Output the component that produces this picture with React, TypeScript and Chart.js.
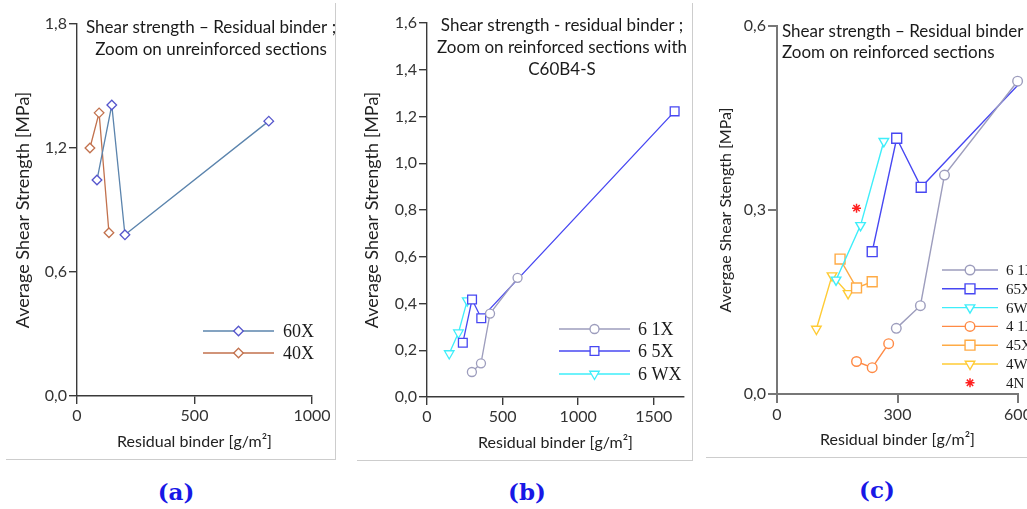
import React, { useEffect, useRef } from 'react';
import { Chart, registerables } from 'chart.js';

Chart.register(...registerables);

// ---------- Panel (a) : unreinforced sections ----------
const binderA60X = [85, 148, 204, 816];
const shearA60X = [1.045, 1.408, 0.78, 1.33];
const binderA40X = [55, 94, 136];
const shearA40X = [1.2, 1.37, 0.79];

// ---------- Panels (b) and (c) : reinforced sections ----------
const binder61X = [297, 357, 417, 599];
const shear61X = [0.107, 0.144, 0.357, 0.51];
const binder65X = [237, 298, 359, 1638];
const shear65X = [0.232, 0.417, 0.337, 1.222];
const binder6WX = [147, 208, 266];
const shear6WX = [0.186, 0.275, 0.412];
const binder41X = [198, 237, 278];
const shear41X = [0.053, 0.043, 0.082];
const binder45X = [157, 198, 237];
const shear45X = [0.22, 0.173, 0.183];
const binder4WX = [98, 137, 177];
const shear4WX = [0.106, 0.193, 0.164];
const binder4N = [198];
const shear4N = [0.303];

// ---------- Ticks ----------
const xTicksA = [0, 500, 1000];
const yTicksA = [0, 0.6, 1.2, 1.8];
const xTicksB = [0, 500, 1000, 1500];
const yTicksB = [0, 0.2, 0.4, 0.6, 0.8, 1.0, 1.2, 1.4, 1.6];
const xTicksC = [0, 300, 600];
const yTicksC = [0, 0.3, 0.6];

// ---------- Labels ----------
const titleA = ['Shear strength \u2013 Residual binder ;', 'Zoom on unreinforced sections'];
const titleB = ['Shear strength - residual binder ;', 'Zoom on reinforced sections with', 'C60B4-S'];
const titleC = ['Shear strength \u2013 Residual binder ;', 'Zoom on reinforced sections'];
const xTitle = 'Residual binder [g/m\u00b2]';
const yTitleAB = 'Average Shear Strength [MPa]';
const yTitleC = 'Avergae Shear Stength [MPa]';
const labelsA = ['60X', '40X'];
const labelsB = ['6 1X', '6 5X', '6 WX'];
const labelsC = ['6 1X', '65X', '6WX', '4 1X', '45X', '4WX', '4N'];

const SANS = 'Lato, "Open Sans", "Noto Sans", sans-serif';
const SERIF = '"Liberation Serif", "DejaVu Serif", serif';

const pts = (xs: number[], ys: number[]) => xs.map((x, i) => ({ x, y: ys[i] }));

function drawMarker(ctx: CanvasRenderingContext2D, style: string, x: number, y: number, r: number, rotDeg: number, color: string, lw: number) {
  const rad0 = (rotDeg * Math.PI) / 180;
  ctx.save();
  ctx.beginPath();
  ctx.strokeStyle = color;
  ctx.fillStyle = '#fff';
  ctx.lineWidth = lw;
  if (style === 'circle') {
    ctx.arc(x, y, r, 0, Math.PI * 2);
  } else if (style === 'rect') {
    const s = r * Math.SQRT1_2;
    ctx.rect(x - s, y - s, 2 * s, 2 * s);
  } else if (style === 'rectRot') {
    ctx.moveTo(x, y - r);
    ctx.lineTo(x + r, y);
    ctx.lineTo(x, y + r);
    ctx.lineTo(x - r, y);
    ctx.closePath();
  } else if (style === 'triangle') {
    let a = rad0;
    ctx.moveTo(x + Math.sin(a) * r, y - Math.cos(a) * r);
    a += (2 * Math.PI) / 3;
    ctx.lineTo(x + Math.sin(a) * r, y - Math.cos(a) * r);
    a += (2 * Math.PI) / 3;
    ctx.lineTo(x + Math.sin(a) * r, y - Math.cos(a) * r);
    ctx.closePath();
  } else if (style === 'star') {
    for (let k = 0; k < 4; k++) {
      const a = (k * Math.PI) / 4;
      ctx.moveTo(x + Math.cos(a) * r, y + Math.sin(a) * r);
      ctx.lineTo(x - Math.cos(a) * r, y - Math.sin(a) * r);
    }
  }
  if (style !== 'star') ctx.fill();
  ctx.stroke();
  ctx.restore();
}

type OverlayCfg = {
  titleLines: string[];
  titleX: number;
  titleY: number[];
  titleAlign: CanvasTextAlign;
  titleFont: string;
  legendX0: number;
  legendX1: number;
  legendTextX: number;
  legendY: number[];
  legendFont: string;
};

function makeOverlay(o: OverlayCfg) {
  return {
    id: 'overlay',
    afterDraw(chart: any) {
      const ctx: CanvasRenderingContext2D = chart.ctx;
      ctx.save();
      ctx.fillStyle = '#1a1a1a';
      ctx.font = o.titleFont;
      ctx.textAlign = o.titleAlign;
      ctx.textBaseline = 'middle';
      o.titleLines.forEach((t, i) => ctx.fillText(t, o.titleX, o.titleY[i]));
      chart.data.datasets.forEach((ds: any, i: number) => {
        const y = o.legendY[i];
        const mid = (o.legendX0 + o.legendX1) / 2;
        if (ds.showLine) {
          ctx.beginPath();
          ctx.strokeStyle = ds.borderColor;
          ctx.lineWidth = ds.borderWidth;
          ctx.moveTo(o.legendX0, y);
          ctx.lineTo(o.legendX1, y);
          ctx.stroke();
        }
        drawMarker(ctx, ds.pointStyle, mid, y, ds.pointRadius, ds.pointRotation || 0, ds.pointBorderColor, ds.pointBorderWidth);
        ctx.fillStyle = '#1a1a1a';
        ctx.font = o.legendFont;
        ctx.textAlign = 'left';
        ctx.textBaseline = 'middle';
        ctx.fillText(ds.label, o.legendTextX, y + 1);
      });
      ctx.restore();
    },
  };
}

function series(label: string, xs: number[], ys: number[], line: string, marker: string, style: string, radius: number, lw: number, extra: any = {}) {
  return {
    label,
    data: pts(xs, ys),
    showLine: true,
    borderColor: line,
    borderWidth: lw,
    pointStyle: style,
    pointRadius: radius,
    pointHoverRadius: radius,
    pointBorderColor: marker,
    pointBackgroundColor: '#fff',
    pointBorderWidth: lw,
    pointRotation: style === 'triangle' ? 180 : 0,
    ...extra,
  };
}

function makeScales(p: {
  xTicks: number[]; yTicks: number[]; yTitle: string; yTitleSize: number; yTitlePad: number;
  axisColor: string; axisW: number; tickLen: number; xMax: number;
}) {
  return {
    x: {
      type: 'linear',
      min: 0,
      max: p.xMax,
      bounds: 'data',
      afterBuildTicks: (s: any) => { s.ticks = p.xTicks.map((v) => ({ value: v })); },
      ticks: {
        autoSkip: false,
        maxRotation: 0,
        padding: 2,
        color: '#333',
        font: { family: SANS, size: 16 },
        callback: (v: any) => String(v),
      },
      grid: { display: true, drawOnChartArea: false, drawTicks: true, tickLength: p.tickLen, color: p.axisColor, lineWidth: p.axisW },
      border: { display: true, color: p.axisColor, width: p.axisW },
      title: { display: true, text: xTitle, color: '#222', font: { family: SANS, size: 16 }, padding: { top: 0, bottom: 5 } },
      afterFit: (s: any) => { s.height = 60; },
    },
    y: {
      type: 'linear',
      min: 0,
      max: p.yTicks[p.yTicks.length - 1],
      bounds: 'data',
      afterBuildTicks: (s: any) => { s.ticks = p.yTicks.map((v) => ({ value: v })); },
      ticks: {
        autoSkip: false,
        padding: 2,
        color: '#333',
        font: { family: SANS, size: 16 },
        callback: (v: any) => Number(v).toFixed(1).replace('.', ','),
      },
      grid: { display: true, drawOnChartArea: false, drawTicks: true, tickLength: p.tickLen, color: p.axisColor, lineWidth: p.axisW },
      border: { display: true, color: p.axisColor, width: p.axisW },
      title: { display: true, text: p.yTitle, color: '#222', font: { family: SANS, size: p.yTitleSize }, padding: { top: p.yTitlePad, bottom: 0 } },
      afterFit: (s: any) => { s.width = 77; },
    },
  };
}

function baseOptions(padding: any, scales: any) {
  return {
    responsive: false,
    animation: false,
    devicePixelRatio: 1,
    events: [],
    layout: { padding },
    plugins: { legend: { display: false }, tooltip: { enabled: false } },
    scales,
  };
}

const C61 = '#9d9dbd';
const C65 = '#4747f2';
const C6W = '#3eeefa';

export default function App() {
  const refA = useRef<HTMLCanvasElement>(null);
  const refB = useRef<HTMLCanvasElement>(null);
  const refC = useRef<HTMLCanvasElement>(null);

  useEffect(() => {
    const chartA = new Chart(refA.current as HTMLCanvasElement, {
      type: 'scatter',
      data: {
        datasets: [
          series(labelsA[0], binderA60X, shearA60X, '#5b84ad', '#5555cc', 'rectRot', 4.8, 1.3),
          series(labelsA[1], binderA40X, shearA40X, '#c2714d', '#c2714d', 'rectRot', 4.8, 1.3),
        ],
      },
      options: baseOptions(
        { left: 0, top: 24, right: 24, bottom: 14 },
        makeScales({ xMax: 1000, xTicks: xTicksA, yTicks: yTicksA, yTitle: yTitleAB, yTitleSize: 18, yTitlePad: 12, axisColor: '#3a3a3a', axisW: 1.4, tickLen: 8 })
      ) as any,
      plugins: [
        makeOverlay({
          titleLines: titleA, titleX: 211, titleY: [28, 50], titleAlign: 'center', titleFont: `17px ${SANS}`,
          legendX0: 203, legendX1: 274, legendTextX: 283, legendY: [331, 353], legendFont: `18px ${SERIF}`,
        }),
      ],
    } as any);

    const chartB = new Chart(refB.current as HTMLCanvasElement, {
      type: 'scatter',
      data: {
        datasets: [
          series(labelsB[0], binder61X, shear61X, C61, C61, 'circle', 4.5, 1.3),
          series(labelsB[1], binder65X, shear65X, C65, C65, 'rect', 6.2, 1.3),
          series(labelsB[2], binder6WX, shear6WX, C6W, C6W, 'triangle', 5.5, 1.3),
        ],
      },
      options: baseOptions(
        { left: 0, top: 23, right: 11, bottom: 13 },
        makeScales({ xMax: 1700, xTicks: xTicksB, yTicks: yTicksB, yTitle: yTitleAB, yTitleSize: 18, yTitlePad: 11, axisColor: '#3a3a3a', axisW: 1.4, tickLen: 8 })
      ) as any,
      plugins: [
        makeOverlay({
          titleLines: titleB, titleX: 212, titleY: [26, 48, 70], titleAlign: 'center', titleFont: `17px ${SANS}`,
          legendX0: 209, legendX1: 280, legendTextX: 288, legendY: [329, 351, 374], legendFont: `18px ${SERIF}`,
        }),
      ],
    } as any);

    const chartC = new Chart(refC.current as HTMLCanvasElement, {
      type: 'scatter',
      data: {
        datasets: [
          series(labelsC[0], binder61X, shear61X, C61, C61, 'circle', 4.8, 1.4, { clip: false }),
          series(labelsC[1], binder65X, shear65X, C65, C65, 'rect', 7, 1.4),
          series(labelsC[2], binder6WX, shear6WX, C6W, C6W, 'triangle', 5.5, 1.4),
          series(labelsC[3], binder41X, shear41X, '#ff8a45', '#ff8a45', 'circle', 4.8, 1.4),
          series(labelsC[4], binder45X, shear45X, '#ffab45', '#ffab45', 'rect', 7, 1.4),
          series(labelsC[5], binder4WX, shear4WX, '#ffcb35', '#ffcb35', 'triangle', 5.5, 1.4),
          series(labelsC[6], binder4N, shear4N, '#ff2020', '#ff2020', 'star', 4.5, 1.5, { showLine: false }),
        ],
      },
      options: baseOptions(
        { left: 0, top: 26, right: 27, bottom: 16 },
        makeScales({ xMax: 600, xTicks: xTicksC, yTicks: yTicksC, yTitle: yTitleC, yTitleSize: 16, yTitlePad: 16, axisColor: '#777', axisW: 2, tickLen: 9 })
      ) as any,
      plugins: [
        makeOverlay({
          titleLines: titleC, titleX: 82, titleY: [32, 53], titleAlign: 'left', titleFont: `17px ${SANS}`,
          legendX0: 242, legendX1: 298, legendTextX: 306,
          legendY: [270, 288.8, 307.6, 326.4, 345.2, 364, 382.8], legendFont: `15px ${SERIF}`,
        }),
      ],
    } as any);

    return () => {
      chartA.destroy();
      chartB.destroy();
      chartC.destroy();
    };
  }, []);

  const line = (left: number, top: number, width: number, height: number) => (
    <div style={{ position: 'absolute', left, top, width, height, background: '#cdcdcd' }} />
  );
  const caption = (text: string, cx: number, cy: number) => (
    <div
      style={{
        position: 'absolute', left: cx - 50, top: cy - 15, width: 100, height: 30, lineHeight: '30px',
        textAlign: 'center', fontFamily: '"DejaVu Serif", serif', fontWeight: 'bold', fontSize: 23, color: '#1818e6',
      }}
    >
      {text}
    </div>
  );

  return (
    <div style={{ position: 'fixed', left: 0, top: 0, width: 1027, height: 509, overflow: 'hidden', background: '#fff' }}>
      <canvas ref={refA} width={336} height={470} style={{ position: 'absolute', left: 0, top: 0, width: 336, height: 470 }} />
      <canvas ref={refB} width={345} height={470} style={{ position: 'absolute', left: 350, top: 0, width: 345, height: 470 }} />
      <canvas ref={refC} width={345} height={470} style={{ position: 'absolute', left: 700, top: 0, width: 345, height: 470 }} />
      {line(335, 3, 1, 457)}
      {line(6, 459, 330, 1)}
      {line(692, 3, 1, 458)}
      {line(357, 460, 336, 1)}
      {line(706, 457, 330, 1)}
      {caption('(a)', 176, 492)}
      {caption('(b)', 527, 492)}
      {caption('(c)', 877, 490)}
    </div>
  );
}
